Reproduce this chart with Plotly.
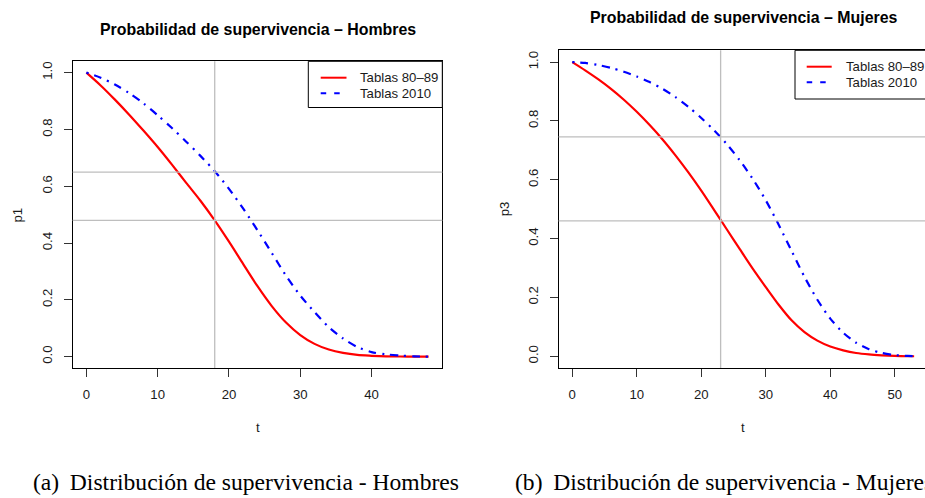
import plotly.graph_objects as go

# ---------------- data ----------------
t_hombres = [0, 2, 4, 6, 8, 10, 12, 14, 16, 18, 20, 22, 24, 26, 28, 30, 32, 34, 36, 38, 40, 42, 44, 46, 48]
p1_tablas_80_89 = [1.000, 0.955, 0.905, 0.852, 0.796, 0.738, 0.676, 0.612, 0.549, 0.480, 0.405, 0.326,
                   0.248, 0.178, 0.120, 0.076, 0.045, 0.025, 0.013, 0.006, 0.003, 0.001, 0.0005, 0.0002, 0.0]
p1_tablas_2010 = [1.000, 0.982, 0.958, 0.928, 0.892, 0.850, 0.805, 0.757, 0.707, 0.653, 0.591, 0.521,
                  0.445, 0.365, 0.285, 0.215, 0.157, 0.104, 0.064, 0.034, 0.016, 0.008, 0.004, 0.001, 0.0]

t_mujeres = [0, 2, 4, 6, 8, 10, 12, 14, 16, 18, 20, 22, 24, 26, 28, 30, 32, 34, 36, 38, 40, 42, 44, 46, 48, 50, 52, 53]
p3_tablas_80_89 = [1.000, 0.972, 0.942, 0.909, 0.872, 0.831, 0.786, 0.737, 0.683, 0.625, 0.563, 0.497,
                   0.430, 0.363, 0.297, 0.235, 0.175, 0.122, 0.082, 0.053, 0.033, 0.020, 0.011, 0.006,
                   0.003, 0.001, 0.0, 0.0]
p3_tablas_2010 = [1.000, 0.997, 0.990, 0.980, 0.967, 0.951, 0.932, 0.909, 0.881, 0.848, 0.810, 0.768,
                  0.720, 0.665, 0.602, 0.530, 0.447, 0.358, 0.270, 0.192, 0.128, 0.080, 0.046, 0.024,
                  0.011, 0.004, 0.001, 0.0]

# reference lines (abline)
vline_hombres = 18
hlines_hombres = [0.65, 0.48]
vline_mujeres = 23
hlines_mujeres = [0.746, 0.46]

x_ticks_hombres = [0, 10, 20, 30, 40]
x_ticks_mujeres = [0, 10, 20, 30, 40, 50]
y_ticks = [0.0, 0.2, 0.4, 0.6, 0.8, 1.0]

legend_labels = ["Tablas 80\u201389", "Tablas 2010"]
titles = ["Probabilidad de supervivencia \u2013 Hombres", "Probabilidad de supervivencia \u2013 Mujeres"]
captions = ["(a)\u2009 Distribución de supervivencia - Hombres", "(b)\u2009 Distribución de supervivencia - Mujeres"]

# ---------------- style ----------------
W, H = 925, 498
RED = "#FF0000"
BLUE = "#0000FF"
GRAY = "#BEBEBE"
SANS = "Liberation Sans, Arial, Helvetica, sans-serif"
SERIF = "Liberation Serif, Times New Roman, serif"
TXT = "#1a1a1a"
FS = 13.2


def px(x):
    return x / W


def py(y):
    return 1 - y / H


fig = go.Figure()

line_red = dict(color=RED, width=2.2, shape="spline", smoothing=0.8)
line_blue = dict(color=BLUE, width=2.2, shape="spline", smoothing=0.8, dash="2px,6px,8px,6px")

fig.add_trace(go.Scatter(x=t_hombres, y=p1_tablas_80_89, mode="lines", line=line_red,
                         xaxis="x", yaxis="y", showlegend=False, hoverinfo="skip"))
fig.add_trace(go.Scatter(x=t_hombres, y=p1_tablas_2010, mode="lines", line=line_blue,
                         xaxis="x", yaxis="y", showlegend=False, hoverinfo="skip"))
fig.add_trace(go.Scatter(x=t_mujeres, y=p3_tablas_80_89, mode="lines", line=line_red,
                         xaxis="x2", yaxis="y2", showlegend=False, hoverinfo="skip"))
fig.add_trace(go.Scatter(x=t_mujeres, y=p3_tablas_2010, mode="lines", line=line_blue,
                         xaxis="x2", yaxis="y2", showlegend=False, hoverinfo="skip"))


def span(vals):
    lo, hi = min(vals), max(vals)
    d = (hi - lo) * 0.04
    return [lo - d, hi + d]


xr1 = span(t_hombres)
xr2 = span(t_mujeres)
yr = [-0.04, 1.04]

# right panel is cut at the page edge
x2_left_px, x2_right_px_full = 558.6, 927.8
x2_right_val = xr2[0] + (xr2[1] - xr2[0]) * (W - x2_left_px) / (x2_right_px_full - x2_left_px)

axis_common = dict(
    showgrid=False, zeroline=False, showline=True, linecolor="black", linewidth=1,
    ticks="outside", ticklen=8, tickwidth=1, tickcolor="#333",
    tickfont=dict(family=SANS, size=FS, color=TXT),
)

fig.update_layout(
    width=W, height=H, autosize=False,
    margin=dict(l=0, r=0, t=0, b=0),
    paper_bgcolor="white", plot_bgcolor="white",
    showlegend=False,
    xaxis=dict(domain=[px(72.7), px(442.3)], range=xr1, anchor="y", mirror=True,
               tickvals=x_ticks_hombres, ticklabelstandoff=6, **axis_common),
    yaxis=dict(domain=[py(368.0), py(61.3)], range=yr, anchor="x", mirror=True,
               tickvals=y_ticks, tickformat=".1f", tickangle=-90, ticklabelstandoff=6, **axis_common),
    xaxis2=dict(domain=[px(x2_left_px), 1.0], range=[xr2[0], x2_right_val], anchor="y2", mirror=True,
                tickvals=x_ticks_mujeres, ticklabelstandoff=6, **axis_common),
    yaxis2=dict(domain=[py(368.0), py(50.3)], range=yr, anchor="x2", mirror=False,
                tickvals=y_ticks, tickformat=".1f", tickangle=-90, ticklabelstandoff=6, **axis_common),
)

shapes = []
# reference lines
for xa, ya, vx, hys in (("x", "y", vline_hombres, hlines_hombres), ("x2", "y2", vline_mujeres, hlines_mujeres)):
    shapes.append(dict(type="line", xref=xa, yref=ya + " domain", x0=vx, x1=vx, y0=0, y1=1,
                       line=dict(color=GRAY, width=1.3)))
    for hy in hys:
        shapes.append(dict(type="line", xref=xa + " domain", yref=ya, x0=0, x1=1, y0=hy, y1=hy,
                           line=dict(color=GRAY, width=1.3)))

annotations = []


def text(x, y, s, size=FS, family=SANS, color=TXT, xanchor="center", angle=0, bold=False):
    if bold:
        s = "<b>" + s + "</b>"
    annotations.append(dict(x=px(x), y=py(y), xref="paper", yref="paper", text=s, showarrow=False,
                            xanchor=xanchor, yanchor="middle", textangle=angle,
                            font=dict(family=family, size=size, color=color)))


# legends (drawn like R's legend box)
legend_boxes = [
    dict(x0=308.3, x1=442.3, y0=61.3, y1=107.5, lx0=320.7, lx1=346.5, ly=[77.7, 93.3], tx=358.3),
    dict(x0=795.0, x1=935.0, y0=50.3, y1=99.0, lx0=806.7, lx1=831.7, ly=[66.7, 82.3], tx=844.0),
]
for lb in legend_boxes:
    shapes.append(dict(type="rect", xref="paper", yref="paper", x0=px(lb["x0"]), x1=px(lb["x1"]),
                       y0=py(lb["y1"]), y1=py(lb["y0"]), line=dict(color="black", width=1),
                       fillcolor="white", layer="above"))
    shapes.append(dict(type="line", xref="paper", yref="paper", x0=px(lb["lx0"]), x1=px(lb["lx1"]),
                       y0=py(lb["ly"][0]), y1=py(lb["ly"][0]), line=dict(color=RED, width=2)))
    shapes.append(dict(type="line", xref="paper", yref="paper", x0=px(lb["lx0"]), x1=px(lb["lx1"]),
                       y0=py(lb["ly"][1]), y1=py(lb["ly"][1]),
                       line=dict(color=BLUE, width=2, dash="5.5px,8px")))
    for lab, yy in zip(legend_labels, lb["ly"]):
        text(lb["tx"], yy, lab, xanchor="left")

# titles
text(257.5, 29.3, titles[0], size=15.9, color="black", bold=True)
text(743.2, 17.8, titles[1], size=15.9, color="black", bold=True)
# axis titles
text(17.8, 214.7, "p1", angle=-90)
text(504.0, 209.3, "p3", angle=-90)
text(257.5, 427.5, "t")
text(743.2, 427.5, "t")
# captions (the right one runs past the page edge, as in the original figure)
text(31, 482, captions[0], size=23.6, family=SERIF, color="black", xanchor="left")
text(513, 482, captions[1], size=23.6, family=SERIF, color="black", xanchor="left")

fig.update_layout(shapes=shapes, annotations=annotations)
fig.write_html("out.html")
